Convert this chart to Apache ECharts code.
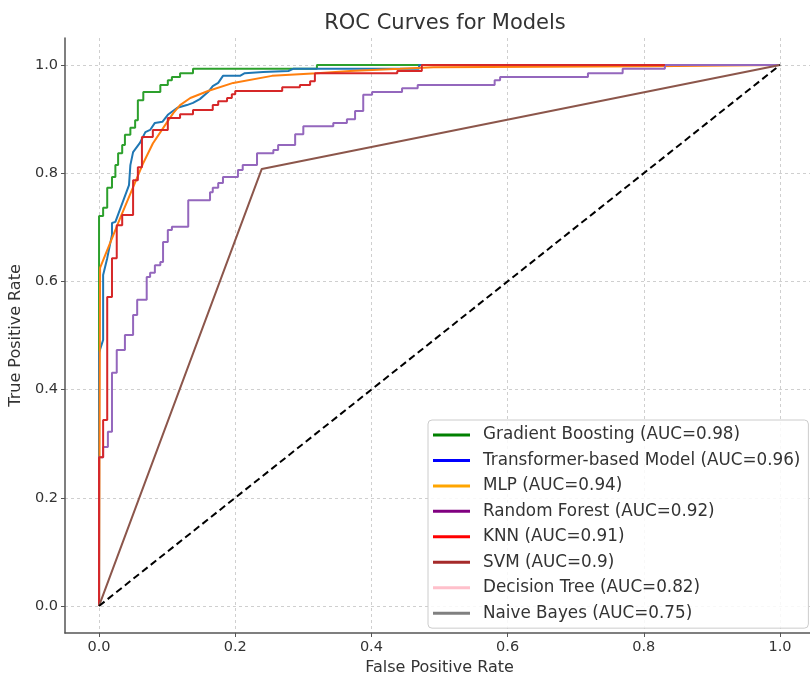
<!DOCTYPE html>
<html>
<head>
<meta charset="utf-8">
<script src="https://cdn.jsdelivr.net/npm/echarts@6/dist/echarts.min.js"></script>
<style>html,body{margin:0;padding:0;background:#fff;}#chart{width:810px;height:675px;}</style>
</head>
<body>
<div id="chart"></div>
<script>
// ---- data ----
const modelNames = ['Gradient Boosting', 'Transformer-based Model', 'MLP', 'Random Forest', 'KNN', 'SVM', 'Decision Tree', 'Naive Bayes'];
const aucValues = [0.98, 0.96, 0.94, 0.92, 0.91, 0.9, 0.82, 0.75];
const xTicks = [0.0, 0.2, 0.4, 0.6, 0.8, 1.0];

const gbFpr = [0, 0, 0.006, 0.012, 0.019, 0.024, 0.028, 0.034, 0.038, 0.046, 0.053, 0.057, 0.065, 0.090, 0.101, 0.107, 0.119, 0.138, 0.320, 1.0];
const gbTpr = [0, 0.721, 0.736, 0.773, 0.793, 0.815, 0.837, 0.852, 0.871, 0.884, 0.898, 0.935, 0.950, 0.963, 0.972, 0.978, 0.985, 0.993, 1.0, 1.0];

const tfFpr = [0, 0, 0.006, 0.006, 0.012, 0.019, 0.019, 0.024, 0.044, 0.046, 0.050, 0.060, 0.068, 0.075, 0.082, 0.093, 0.101, 0.115, 0.129, 0.138, 0.148, 0.160, 0.167, 0.175, 0.182, 0.207, 0.214, 0.241, 0.278, 0.285, 0.470, 0.470, 1.0];
const tfTpr = [0, 0.468, 0.492, 0.612, 0.643, 0.686, 0.708, 0.710, 0.778, 0.815, 0.839, 0.856, 0.876, 0.880, 0.893, 0.895, 0.908, 0.921, 0.926, 0.930, 0.937, 0.950, 0.961, 0.967, 0.980, 0.980, 0.985, 0.987, 0.989, 0.993, 0.993, 1.0, 1.0];

const mlpFpr = [0, 0.0015, 0.031, 0.065, 0.079, 0.097, 0.109, 0.119, 0.134, 0.148, 0.160, 0.197, 0.254, 0.320, 0.369, 0.442, 0.491, 0.809, 1.0];
const mlpTpr = [0, 0.625, 0.717, 0.819, 0.855, 0.889, 0.911, 0.926, 0.939, 0.946, 0.952, 0.967, 0.980, 0.985, 0.989, 0.993, 0.996, 0.998, 1.0];

const rfFpr = [0, 0, 0.006, 0.013, 0.019, 0.026, 0.038, 0.050, 0.056, 0.070, 0.075, 0.082, 0.090, 0.094, 0.101, 0.107, 0.131, 0.163, 0.167, 0.175, 0.182, 0.204, 0.211, 0.232, 0.256, 0.263, 0.288, 0.300, 0.344, 0.364, 0.376, 0.388, 0.401, 0.445, 0.468, 0.581, 0.589, 0.718, 0.769, 0.831, 1.0];
const rfTpr = [0, 0.275, 0.294, 0.322, 0.431, 0.473, 0.501, 0.538, 0.566, 0.608, 0.616, 0.630, 0.636, 0.673, 0.695, 0.701, 0.750, 0.765, 0.773, 0.782, 0.793, 0.806, 0.815, 0.837, 0.843, 0.852, 0.872, 0.887, 0.893, 0.900, 0.915, 0.945, 0.950, 0.957, 0.963, 0.972, 0.978, 0.985, 0.993, 1.0, 1.0];

const knnFpr = [0, 0, 0.006, 0.012, 0.019, 0.026, 0.034, 0.050, 0.057, 0.063, 0.079, 0.101, 0.119, 0.138, 0.167, 0.175, 0.188, 0.195, 0.200, 0.269, 0.295, 0.310, 0.317, 0.438, 0.474, 0.831];
const knnTpr = [0, 0.275, 0.344, 0.571, 0.643, 0.704, 0.723, 0.787, 0.811, 0.867, 0.880, 0.902, 0.909, 0.917, 0.926, 0.933, 0.939, 0.946, 0.952, 0.959, 0.963, 0.970, 0.985, 0.989, 1.0, 1.0];

const svmFpr = [0, 0.239, 1.0];
const svmTpr = [0, 0.808, 1.0];

const chanceFpr = [0, 1];
const chanceTpr = [0, 1];

// ---- styling ----
const curveColors = ['#2ca02c', '#1f77b4', '#ff7f0e', '#9467bd', '#d62728', '#8c564b', '#ffc0cb', '#808080'];
const legendColors = ['#008000', '#0000ff', '#ffa500', '#800080', '#ff0000', '#a52a2a', '#ffc0cb', '#808080'];
const FONT = 'DejaVu Sans';

function zip(a, b) { return a.map((v, i) => [v, b[i]]); }
const curves = [
  { d: zip(gbFpr, gbTpr), step: 'end' },
  { d: zip(tfFpr, tfTpr), step: false },
  { d: zip(mlpFpr, mlpTpr), step: false },
  { d: zip(rfFpr, rfTpr), step: 'end' },
  { d: zip(knnFpr, knnTpr), step: 'end' },
  { d: zip(svmFpr, svmTpr), step: false },
  { d: [], step: false },
  { d: [], step: false }
];
const labels = modelNames.map((n, i) => n + ' (AUC=' + aucValues[i] + ')');

const series = curves.map((c, i) => ({
  name: labels[i],
  type: 'line',
  data: c.d,
  step: c.step,
  showSymbol: false,
  symbol: 'none',
  z: 2 + i,
  lineStyle: { color: curveColors[i], width: 2 },
  itemStyle: { color: legendColors[i] }
}));
series.push({
  name: 'chance',
  type: 'line',
  data: zip(chanceFpr, chanceTpr),
  showSymbol: false,
  symbol: 'none',
  z: 20,
  lineStyle: { color: '#000', width: 2, type: [7, 4] }
});

const axisCommon = {
  type: 'value',
  min: -0.05,
  max: 1.05,
  minInterval: 0.2,
  maxInterval: 0.2,
  nameLocation: 'middle',
  nameTextStyle: { fontFamily: FONT, fontSize: 16, color: '#333' },
  axisLine: { show: true, onZero: false, lineStyle: { color: '#555', width: 1.5 } },
  axisTick: { show: true, length: 4, inside: false, lineStyle: { color: '#555' } },
  axisLabel: {
    fontFamily: FONT, fontSize: 14.5, color: '#333', margin: 7,
    showMinLabel: false, showMaxLabel: false,
    formatter: v => (xTicks.some(t => Math.abs(t - v) < 1e-6) ? v.toFixed(1) : '')
  },
  splitLine: { show: true, showMinLine: false, showMaxLine: false, lineStyle: { color: '#cfcfcf', type: [3, 3], width: 1 } }
};

const option = {
  animation: false,
  backgroundColor: '#fff',
  title: {
    text: 'ROC Curves for Models',
    left: 440, top: 8, textAlign: 'center',
    textStyle: { fontFamily: FONT, fontSize: 21, fontWeight: 'normal', color: '#333' }
  },
  grid: { left: 65, top: 38, width: 749, height: 595, containLabel: false, outerBoundsMode: 'none' },
  xAxis: Object.assign({}, axisCommon, { name: 'False Positive Rate', nameGap: 24 }),
  yAxis: Object.assign({}, axisCommon, { name: 'True Positive Rate', nameGap: 37 }),
  legend: {
    orient: 'vertical',
    left: 428, top: 420,
    data: labels.map((l, i) => ({ name: l, icon: 'rect', itemStyle: { color: legendColors[i] } })),
    itemWidth: 37, itemHeight: 3, itemGap: 5.45,
    textStyle: { fontFamily: FONT, fontSize: 16.8, color: '#333', lineHeight: 20, padding: [0, 0, 0, 8] },
    backgroundColor: 'rgba(255,255,255,0.85)',
    borderColor: '#cccccc', borderWidth: 1, borderRadius: 4,
    padding: [5, 8, 5, 5],
    selectedMode: false
  },
  series: series
};

const chart = echarts.init(document.getElementById('chart'), null, { renderer: 'canvas' });
chart.setOption(option);
</script>
</body>
</html>
